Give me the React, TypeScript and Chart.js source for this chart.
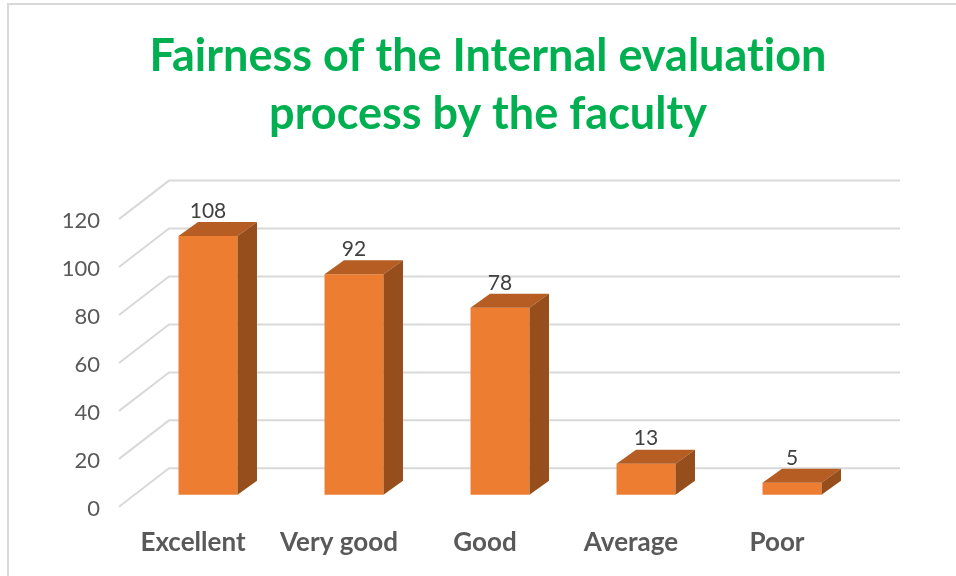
import React, { useEffect, useRef } from "react";
import { Chart, registerables } from "chart.js";

Chart.register(...registerables);

const titleLines = ["Fairness of the Internal evaluation", "process by the faculty"];
const categories = ["Excellent", "Very good", "Good", "Average", "Poor"];
const values = [108, 92, 78, 13, 5];
const yMin = 0;
const yMax = 120;
const yStep = 20;

const FONT = "Lato";
const FRONT = "#ED7D31";
const TOP = "#B55D22";
const SIDE = "#964F1C";
const GRID = "#D9D9D9";

const wall3d = {
  id: "wall3d",
  beforeDraw(chart: any) {
    // keep the "ti" pair as separate letters
    chart.ctx.letterSpacing = "0.01px";
  },
  beforeDatasetsDraw(chart: any) {
    const { ctx, scales } = chart;
    const y = scales.y;
    ctx.save();
    // outer frame
    ctx.strokeStyle = GRID;
    ctx.lineWidth = 2;
    ctx.beginPath();
    ctx.moveTo(8, 576);
    ctx.lineTo(8, 4);
    ctx.lineTo(956, 4);
    ctx.stroke();
    // floor/back wall
    for (const t of y.ticks) {
      const py = y.getPixelForValue(t.value);
      ctx.beginPath();
      ctx.moveTo(119, py);
      ctx.lineTo(169, py - 38.5);
      ctx.lineTo(900, py - 38.5);
      ctx.stroke();
    }
    ctx.restore();
  },
  afterDatasetsDraw(chart: any) {
    const { ctx } = chart;
    const meta = chart.getDatasetMeta(0);
    const dx = 19.5;
    const dy = 14;
    ctx.save();
    meta.data.forEach((bar: any, i: number) => {
      const p = bar.getProps(["x", "y", "base", "width"], true);
      const l = p.x - p.width / 2;
      const r = p.x + p.width / 2;
      ctx.fillStyle = TOP;
      ctx.beginPath();
      ctx.moveTo(l, p.y);
      ctx.lineTo(l + dx, p.y - dy);
      ctx.lineTo(r + dx, p.y - dy);
      ctx.lineTo(r, p.y);
      ctx.closePath();
      ctx.fill();
      ctx.fillStyle = SIDE;
      ctx.beginPath();
      ctx.moveTo(r, p.y);
      ctx.lineTo(r + dx, p.y - dy);
      ctx.lineTo(r + dx, p.base - dy);
      ctx.lineTo(r, p.base);
      ctx.closePath();
      ctx.fill();
      ctx.fillStyle = "#404040";
      ctx.font = `21px ${FONT}`;
      ctx.textAlign = "center";
      ctx.textBaseline = "middle";
      ctx.fillText(String(values[i]), p.x, p.y - 25);
    });
    ctx.restore();
  },
};

export default function App() {
  const ref = useRef<HTMLCanvasElement>(null);
  useEffect(() => {
    document.body.style.margin = "0";
    const chart = new Chart(ref.current as HTMLCanvasElement, {
      type: "bar",
      data: {
        labels: categories,
        datasets: [
          {
            data: values,
            yAxisID: "yBars",
            backgroundColor: FRONT,
            barPercentage: 0.404,
            categoryPercentage: 1,
          },
        ],
      },
      plugins: [wall3d],
      options: {
        responsive: false,
        animation: false,
        layout: { padding: { left: 58, right: 38, top: 0, bottom: 5 } },
        plugins: {
          legend: { display: false },
          tooltip: { enabled: false },
          title: {
            display: true,
            text: titleLines,
            color: "#00B050",
            font: { family: FONT, size: 45, weight: "bold", lineHeight: 1.29 },
            padding: { top: 27, bottom: 76 },
          },
        },
        scales: {
          x: {
            grid: { display: false },
            border: { display: false },
            ticks: {
              color: "#595959",
              font: { family: FONT, size: 26, weight: "bold" },
              labelOffset: -15,
              padding: 12.5,
              maxRotation: 0,
            },
          },
          y: {
            min: yMin,
            max: yMax,
            position: "left",
            grid: { display: false },
            border: { display: false },
            afterFit(scale: any) {
              scale.width = 77;
            },
            ticks: {
              stepSize: yStep,
              color: "#595959",
              font: { family: FONT, size: 22 },
              padding: 27,
              labelOffset: 2,
            },
          },
          yBars: {
            axis: "y",
            position: "right",
            min: -5,
            max: 115,
            grid: { display: false },
            border: { display: false },
            ticks: { display: false },
            afterFit(scale: any) {
              scale.width = 53;
            },
          },
        },
      },
    } as any);
    return () => chart.destroy();
  }, []);
  return <canvas ref={ref} width={956} height={576} style={{ display: "block" }} />;
}
